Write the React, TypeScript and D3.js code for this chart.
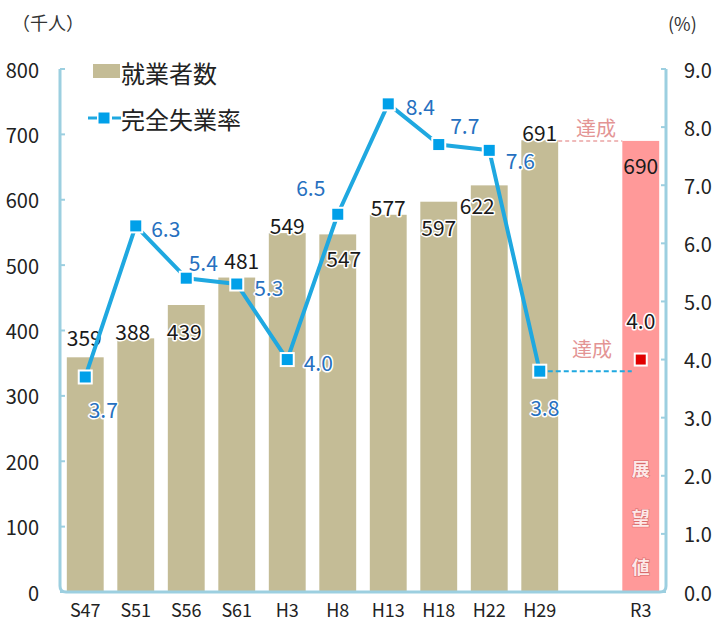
import React from "react";
import * as d3 from "d3";

const categories = ["S47", "S51", "S56", "S61", "H3", "H8", "H13", "H18", "H22", "H29"];
const employed = [359, 388, 439, 481, 549, 547, 577, 597, 622, 691];
const unemploymentRate = [3.7, 6.3, 5.4, 5.3, 4.0, 6.5, 8.4, 7.7, 7.6, 3.8];
const targetCategory = "R3";
const targetEmployed = 690;
const targetRate = 4.0;
const leftTicks = [0, 100, 200, 300, 400, 500, 600, 700, 800];
const rightTicks = [0, 1, 2, 3, 4, 5, 6, 7, 8, 9];
const legendBar = "就業者数";
const legendLine = "完全失業率";
const leftUnit = "（千人）";
const rightUnit = "(%)";
const achieved = "達成";
const outlookChars = ["展", "望", "値"];

// label placement offsets (layout only)
const barLabelOffsets: [number, number][] = [
  [-1, -20], [-3, -7], [-2, 26], [5, -18], [0, -8], [6, 24], [0, -8], [0, 25], [-12, 20], [0, -8],
];
const rateLabelOffsets: [number, number][] = [
  [18, 32], [30, 2], [17, -16], [32, 3], [31, 2], [-27, -27], [32, 2], [26, -20], [31, 10], [5, 36],
];

const W = 717;
const H = 628;
const FONT = "'Noto Sans CJK JP', 'Noto Sans', sans-serif";

export default function App() {
  const slots = [...categories, "__gap__", targetCategory];
  const x = d3.scaleBand<string>().domain(slots).range([60, 666]).paddingInner(0.27).paddingOuter(0.135);
  const yL = d3.scaleLinear().domain([0, 800]).range([592, 69]);
  const yR = d3.scaleLinear().domain([0, 9]).range([592, 69]);
  const bw = x.bandwidth();
  const cx = (c: string) => (x(c) as number) + bw / 2;

  const line = d3
    .line<number>()
    .x((_, i) => cx(categories[i]))
    .y((d) => yR(d));

  const axisColor = "#9ccfe0";
  const barColor = "#c4bc96";
  const lineColor = "#1fa8e0";
  const markerColor = "#00a0e9";
  const blueText = "#2670c0";
  const pink = "#ff9999";
  const pinkText = "#e39494";

  const y0 = yL(0);
  const yTop = yL(800);
  const r = 6;
  const framePath = `M60,${yTop} L60,${y0 - r} Q60,${y0} ${60 + r},${y0} L${666 - r},${y0} Q666,${y0} 666,${y0 - r} L666,${yTop}`;

  const haloNum = { paintOrder: "stroke" as const, stroke: "#fff", strokeWidth: 3, strokeLinejoin: "round" as const };

  const rx = cx(targetCategory);

  return (
    <svg width={W} height={H} style={{ display: "block", position: "absolute", left: 0, top: 0 }} fontFamily={FONT}>
      <rect width={W} height={H} fill="#fff" />
      {/* bars */}
      {employed.map((v, i) => (
        <rect key={categories[i]} x={x(categories[i])} y={yL(v)} width={bw} height={y0 - yL(v)} fill={barColor} />
      ))}
      <rect x={x(targetCategory)} y={yL(targetEmployed)} width={bw} height={y0 - yL(targetEmployed)} fill={pink} />
      {outlookChars.map((ch, i) => (
        <text
          key={ch}
          x={rx}
          y={yR(0) - 124 + i * 49}
          textAnchor="middle"
          dominantBaseline="central"
          fontSize={18}
          fontWeight={700}
          fill="#fde8e8"
          stroke="#d86a6a"
          strokeWidth={1.1}
          style={{ paintOrder: "stroke" }}
        >
          {ch}
        </text>
      ))}
      {/* frame */}
      <path d={framePath} fill="none" stroke={axisColor} strokeWidth={3} />
      {leftTicks.map((t) => (
        <line key={"lt" + t} x1={60} x2={65} y1={yL(t)} y2={yL(t)} stroke={axisColor} strokeWidth={2} />
      ))}
      {rightTicks.map((t) => (
        <line key={"rt" + t} x1={661} x2={666} y1={yR(t)} y2={yR(t)} stroke={axisColor} strokeWidth={2} />
      ))}
      {leftTicks.map((t) => (
        <text key={"ll" + t} x={39} y={yL(t)} textAnchor="end" dominantBaseline="central" fontSize={20} fill="#222">
          {t}
        </text>
      ))}
      {rightTicks.map((t) => (
        <text key={"rl" + t} x={684} y={yR(t)} textAnchor="start" dominantBaseline="central" fontSize={20} fill="#222">
          {t.toFixed(1)}
        </text>
      ))}
      {[...categories, targetCategory].map((c) => (
        <text key={"xl" + c} x={cx(c)} y={609} textAnchor="middle" dominantBaseline="central" fontSize={18} fill="#222">
          {c}
        </text>
      ))}
      <text x={12} y={22} dominantBaseline="central" fontSize={18} fill="#333">
        {leftUnit}
      </text>
      <text x={668} y={23} dominantBaseline="central" fontSize={18} fill="#333">
        {rightUnit}
      </text>
      {/* dashed achievement lines */}
      <line
        x1={(x(categories[9]) as number) + bw}
        x2={x(targetCategory)}
        y1={yL(targetEmployed)}
        y2={yL(targetEmployed)}
        stroke="#eaa4a4"
        strokeWidth={1.5}
        strokeDasharray="4 3"
      />
      <text x={596} y={127} textAnchor="middle" dominantBaseline="central" fontSize={20} fill={pinkText}>
        {achieved}
      </text>
      <line
        x1={cx(categories[9]) + 8}
        x2={rx - 9}
        y1={yR(unemploymentRate[9])}
        y2={yR(unemploymentRate[9])}
        stroke={lineColor}
        strokeWidth={2}
        strokeDasharray="5 3"
      />
      <text x={592} y={348} textAnchor="middle" dominantBaseline="central" fontSize={20} fill={pinkText}>
        {achieved}
      </text>
      {/* bar labels */}
      {employed.map((v, i) => (
        <text
          key={"bl" + i}
          x={cx(categories[i]) + barLabelOffsets[i][0]}
          y={yL(v) + barLabelOffsets[i][1]}
          textAnchor="middle"
          dominantBaseline="central"
          fontSize={21}
          fill="#1a1a1a"
          {...haloNum}
        >
          {v}
        </text>
      ))}
      <text x={rx} y={yL(targetEmployed) + 24} textAnchor="middle" dominantBaseline="central" fontSize={21} fill="#1a1a1a">
        {targetEmployed}
      </text>
      {/* line */}
      <path d={line(unemploymentRate) || ""} fill="none" stroke={lineColor} strokeWidth={4} strokeLinejoin="round" />
      {unemploymentRate.map((v, i) => (
        <rect
          key={"m" + i}
          x={cx(categories[i]) - 6.5}
          y={yR(v) - 6.5}
          width={13}
          height={13}
          fill={markerColor}
          stroke="#fff"
          strokeWidth={2}
        />
      ))}
      {unemploymentRate.map((v, i) => (
        <text
          key={"rl" + i}
          x={cx(categories[i]) + rateLabelOffsets[i][0]}
          y={yR(v) + rateLabelOffsets[i][1]}
          textAnchor="middle"
          dominantBaseline="central"
          fontSize={21}
          fill={blueText}
          {...haloNum}
        >
          {v.toFixed(1)}
        </text>
      ))}
      <rect x={rx - 6} y={yR(targetRate) - 6} width={12} height={12} fill="#e00000" stroke="#fff" strokeWidth={2} />
      <text x={rx} y={yR(targetRate) - 40} textAnchor="middle" dominantBaseline="central" fontSize={21} fill="#1a1a1a" {...haloNum}>
        {targetRate.toFixed(1)}
      </text>
      {/* legend */}
      <rect x={93} y={64} width={27} height={14} fill={barColor} />
      <text x={121} y={72} dominantBaseline="central" fontSize={24} fill="#222">
        {legendBar}
      </text>
      <line x1={88} x2={97} y1={118} y2={118} stroke={lineColor} strokeWidth={3} />
      <line x1={112} x2={121} y1={118} y2={118} stroke={lineColor} strokeWidth={3} />
      <rect x={98} y={112} width={12} height={12} fill={markerColor} stroke="#fff" strokeWidth={1} />
      <text x={121} y={118} dominantBaseline="central" fontSize={24} fill="#222">
        {legendLine}
      </text>
    </svg>
  );
}
